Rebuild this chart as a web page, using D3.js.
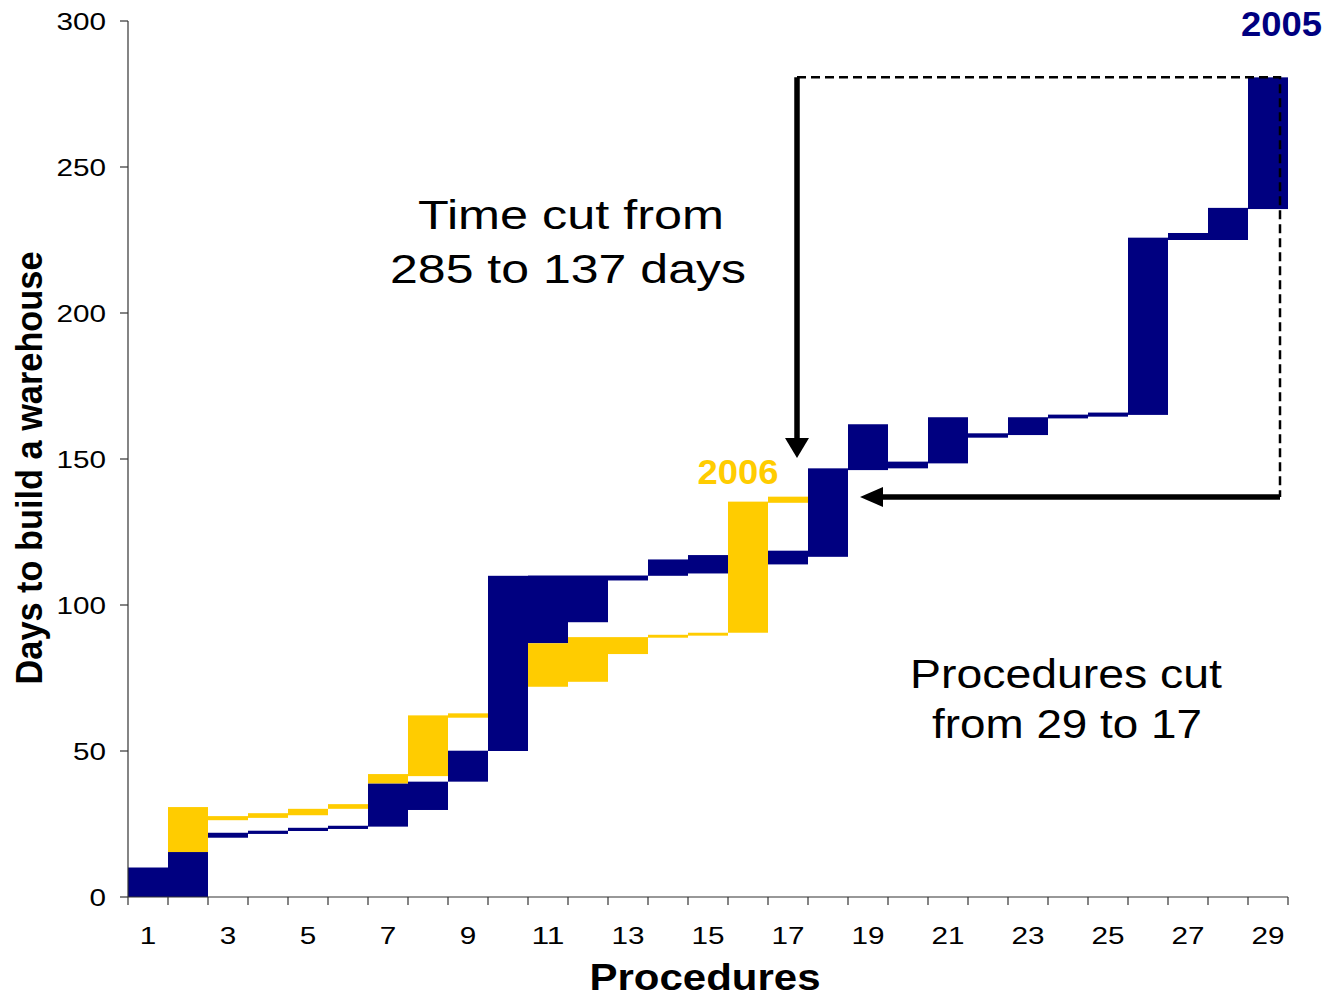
<!DOCTYPE html>
<html>
<head>
<meta charset="utf-8">
<script src="https://cdn.jsdelivr.net/npm/d3@7"></script>
<style>
  body { margin: 0; background: #fff; }
  text { font-family: "Liberation Sans", Arial, sans-serif; }
</style>
</head>
<body>
<div id="chart"></div>
<script>
// procedures on the x axis
const procedures = [1, 2, 3, 4, 5, 6, 7, 8, 9, 10, 11, 12, 13, 14, 15, 16, 17, 18, 19, 20, 21, 22, 23, 24, 25, 26, 27, 28, 29];
const xTickLabels = [1, 3, 5, 7, 9, 11, 13, 15, 17, 19, 21, 23, 25, 27, 29];
const yTicks = [0, 50, 100, 150, 200, 250, 300];

// 2005: start / end day of each procedure (29 procedures)
const start2005 = [0, 0, 20.3, 21.6, 22.6, 23.3, 24.1, 29.8, 39.5, 50, 86.9, 94.1, 108.4, 110, 110.8, 117, 113.9, 116.5, 146.2, 146.8, 148.5, 157.3, 158.2, 163.9, 164.5, 165.1, 225, 225, 235.6];
const end2005 = [10.1, 15.4, 22, 22.7, 23.7, 24.4, 38.9, 39.5, 50.1, 110, 110.1, 110.1, 110.1, 115.6, 117.1, 118, 118.6, 146.8, 161.9, 149.1, 164.3, 158.8, 164.3, 165.2, 165.9, 225.8, 227.4, 236, 280.7];

// 2006: start / end day of each procedure (17 procedures)
const start2006 = [0, 15.4, 26.3, 27.1, 28, 30.2, 38.9, 41.4, 61.4, 62.9, 72, 73.7, 83.2, 88.8, 89.5, 90.5, 135];
const end2006 = [0, 30.8, 27.7, 28.7, 30.2, 31.8, 42.1, 62.2, 62.9, 62.9, 86.9, 89, 89, 89.8, 90.5, 135.4, 137.1];

const total2005 = 280.7, total2006 = 137;

const navy = "#000080", gold = "#FFCC00";
const width = 1326, height = 997;

const svg = d3.select("#chart").append("svg")
  .attr("width", width).attr("height", height)
  .attr("viewBox", [0, 0, width, height]);

svg.append("rect").attr("width", width).attr("height", height).attr("fill", "#fff");

const x = d3.scaleBand().domain(procedures).range([128, 1288]).padding(0);
const y = d3.scaleLinear().domain([0, 300]).range([897, 21]);
const bw = x.bandwidth();

// ── bars: 2005 under, 2006 on top ──
const bars05 = procedures.map((p, i) => ({ p, s: start2005[i], e: end2005[i] }));
const bars06 = start2006.map((s, i) => ({ p: procedures[i], s, e: end2006[i] }));

svg.append("g").selectAll("rect").data(bars05).join("rect")
  .attr("x", d => x(d.p)).attr("width", bw)
  .attr("y", d => y(d.e)).attr("height", d => y(d.s) - y(d.e))
  .attr("fill", navy);

svg.append("g").selectAll("rect").data(bars06).join("rect")
  .attr("x", d => x(d.p)).attr("width", bw)
  .attr("y", d => y(d.e)).attr("height", d => y(d.s) - y(d.e))
  .attr("fill", gold);

// ── axes ──
const axisColor = "#333";
svg.append("line").attr("x1", 128).attr("x2", 128).attr("y1", y(300)).attr("y2", y(0))
  .attr("stroke", axisColor).attr("stroke-width", 1.2);
svg.append("line").attr("x1", 128).attr("x2", 1288).attr("y1", y(0)).attr("y2", y(0))
  .attr("stroke", axisColor).attr("stroke-width", 1.2);

svg.append("g").selectAll("line").data(yTicks).join("line")
  .attr("x1", 120).attr("x2", 128).attr("y1", d => y(d)).attr("y2", d => y(d))
  .attr("stroke", axisColor).attr("stroke-width", 1.2);

svg.append("g").selectAll("text").data(yTicks).join("text")
  .attr("x", 106).attr("y", d => y(d) + 8.5)
  .attr("text-anchor", "end").attr("font-size", "24px").attr("fill", "#000")
  .attr("textLength", d => String(d).length * 16.5).attr("lengthAdjust", "spacingAndGlyphs")
  .text(d => d);

// ticks at every category boundary
const bounds = procedures.map(p => x(p)).concat([x(29) + bw]);
svg.append("g").selectAll("line").data(bounds).join("line")
  .attr("x1", d => d).attr("x2", d => d).attr("y1", y(0)).attr("y2", y(0) + 8)
  .attr("stroke", axisColor).attr("stroke-width", 1.2);

svg.append("g").selectAll("text").data(xTickLabels).join("text")
  .attr("x", d => x(d) + bw / 2).attr("y", 944)
  .attr("text-anchor", "middle").attr("font-size", "24px").attr("fill", "#000")
  .attr("textLength", d => String(d).length * 16.5).attr("lengthAdjust", "spacingAndGlyphs")
  .text(d => d);

// axis titles
svg.append("text")
  .attr("x", 705).attr("y", 990).attr("text-anchor", "middle")
  .attr("font-size", "36px").attr("font-weight", "bold")
  .attr("textLength", 231).attr("lengthAdjust", "spacingAndGlyphs")
  .text("Procedures");

svg.append("text")
  .attr("transform", "translate(42,468) rotate(-90)")
  .attr("text-anchor", "middle")
  .attr("font-size", "36px").attr("font-weight", "bold")
  .attr("textLength", 433).attr("lengthAdjust", "spacingAndGlyphs")
  .text("Days to build a warehouse");

// ── annotations ──
const arrowX = x(17) + 29;
const dashX = x(29) + 32;
const topY = y(total2005);
const cutY = y(total2006);

// dashed box
svg.append("path")
  .attr("d", `M${arrowX},${topY}H${dashX}V${cutY}`)
  .attr("fill", "none").attr("stroke", "#000").attr("stroke-width", 2.5)
  .attr("stroke-dasharray", "9,5");

// vertical arrow (time cut)
const vTip = y(150.3);
svg.append("line").attr("x1", arrowX).attr("x2", arrowX).attr("y1", topY).attr("y2", vTip - 18)
  .attr("stroke", "#000").attr("stroke-width", 5.5);
svg.append("path")
  .attr("d", `M${arrowX - 12},${vTip - 20}L${arrowX + 12},${vTip - 20}L${arrowX},${vTip}Z`)
  .attr("fill", "#000");

// horizontal arrow (procedures cut)
const hTip = x(19) + 12;
svg.append("line").attr("x1", dashX).attr("x2", hTip + 20).attr("y1", cutY).attr("y2", cutY)
  .attr("stroke", "#000").attr("stroke-width", 5.5);
svg.append("path")
  .attr("d", `M${hTip + 23},${cutY - 10}L${hTip + 23},${cutY + 10}L${hTip},${cutY}Z`)
  .attr("fill", "#000");

// texts
const note = (t, cx, by, len) => svg.append("text")
  .attr("x", cx).attr("y", by).attr("text-anchor", "middle")
  .attr("font-size", "41px").attr("fill", "#000")
  .attr("textLength", len).attr("lengthAdjust", "spacingAndGlyphs")
  .text(t);

note("Time cut from", 571, 229, 306);
note("285 to 137 days", 568, 283, 356);
note("Procedures cut", 1066, 688, 312);
note("from 29 to 17", 1067, 738, 270);

svg.append("text")
  .attr("x", 1322).attr("y", 36).attr("text-anchor", "end")
  .attr("font-size", "35px").attr("font-weight", "bold").attr("fill", navy)
  .attr("textLength", 81).attr("lengthAdjust", "spacingAndGlyphs")
  .text("2005");

svg.append("text")
  .attr("x", 738).attr("y", 484).attr("text-anchor", "middle")
  .attr("font-size", "35px").attr("font-weight", "bold").attr("fill", gold)
  .attr("textLength", 81).attr("lengthAdjust", "spacingAndGlyphs")
  .text("2006");
</script>
</body>
</html>
